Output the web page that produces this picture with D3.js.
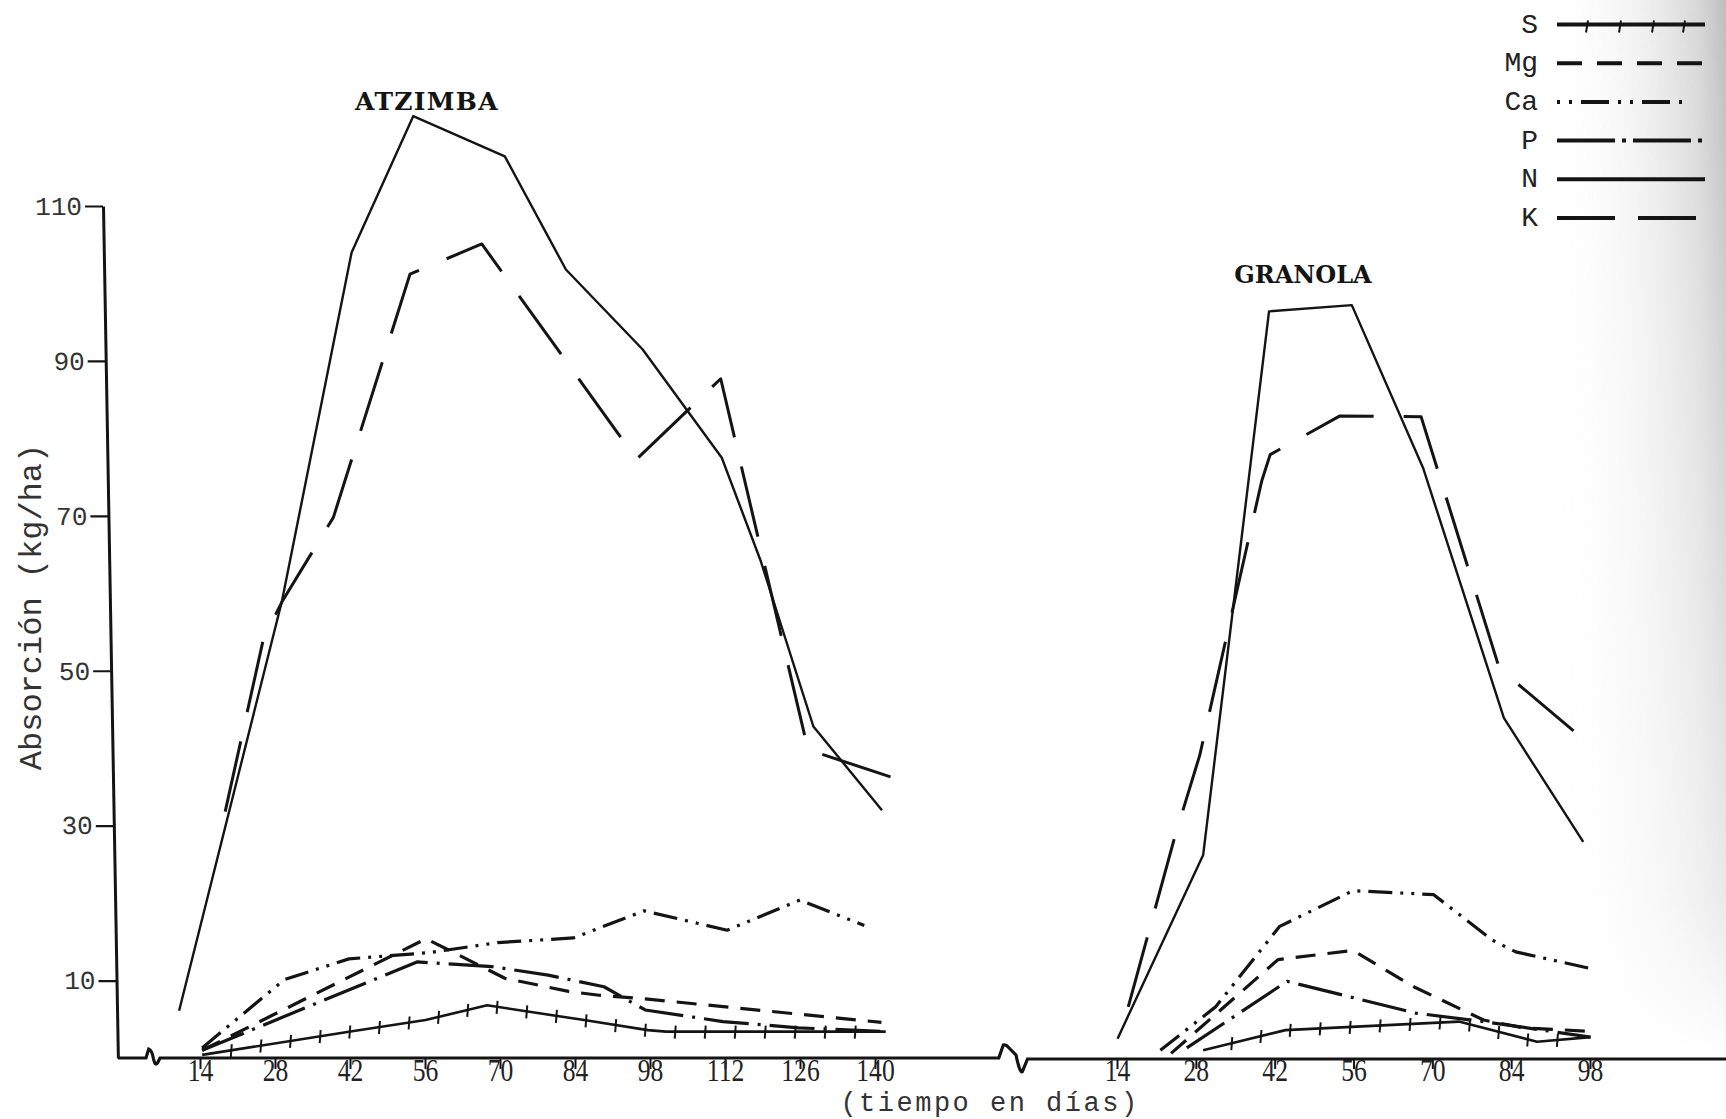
<!DOCTYPE html>
<html>
<head>
<meta charset="utf-8">
<script src="https://cdnjs.cloudflare.com/ajax/libs/d3/7.8.5/d3.min.js"></script>
<style>
  body { margin: 0; background: #fff; }
  svg { display: block; }
</style>
</head>
<body>
<div id="chart"></div>
<script>
/* DATA: [day, kg/ha] */

// Atzimba
const atzS  = [[14.4,0.4],[41.8,3.4],[56.1,4.9],[67.6,6.8],[85.7,4.9],[97.6,3.6],[101,3.4],[142,3.4]];
const atzMg = [[14.4,1.0],[56.2,15.4],[70.9,10.3],[82.8,8.6],[88.5,8.1],[97.6,7.6],[141.2,4.6]];
const atzCa = [[14.4,1.3],[29.7,10.1],[41.8,12.8],[56.7,13.6],[69.6,14.9],[83.7,15.5],[96.9,19.0],[112.4,16.5],[126,20.4],[138,17.1]];
const atzP  = [[14.4,1.0],[54.5,12.4],[68.5,11.8],[79,10.7],[89.4,9.2],[97.1,6.2],[111.6,4.7],[125.7,3.9],[142,3.4]];
const atzN  = [[10.1,6.1],[29.3,59.0],[42.3,104.0],[53.8,121.6],[70.9,116.4],[82.3,101.8],[96.6,91.5],[111.4,77.5],[118.6,64.3],[128.5,42.8],[141.3,32.0]];
const atzK  = [[18.7,31.8],[25.8,54.0],[29.3,58.9],[38.9,69.8],[53.2,101.2],[66.6,105.1],[95.5,77.3],[111.2,87.7],[127.5,39.8],[142.9,36.3]];

// Granola
const graS  = [[29.3,1.0],[43.9,3.6],[74.7,4.7],[88.6,2.1],[98.1,2.7]];
const graMg = [[23.6,0.6],[42.6,12.7],[55.9,13.9],[66.7,9.2],[79.1,4.9],[86.1,3.9],[99.1,3.4]];
const graCa = [[21.7,1.0],[31.5,6.6],[42.9,17.0],[55.9,21.6],[70.2,21.1],[80.7,15.2],[84.8,13.7],[97.8,11.6]];
const graP  = [[26.4,1.3],[44.2,9.9],[67,5.8],[79.1,4.7],[98.1,2.7]];
const graN  = [[14.1,2.5],[29.3,26.2],[41.0,96.4],[55.7,97.2],[68.4,76.1],[82.7,43.9],[96.8,27.9]];
const graK  = [[16.0,6.6],[24.2,28.4],[28.7,39.1],[39.7,74.5],[41.2,77.9],[53.6,82.9],[68.0,82.8],[81.9,50.3],[95.3,42.1]];

const nutrients = ["S", "Mg", "Ca", "P", "N", "K"];
const atzTicks = [14, 28, 42, 56, 70, 84, 98, 112, 126, 140];
const graTicks = [14, 28, 42, 56, 70, 84, 98];
const yTicks = [10, 30, 50, 70, 90, 110];

/* SETUP */
const W = 1726, H = 1119;
const ink = "#141414";
const mono = "'Liberation Mono', 'DejaVu Sans Mono', monospace";

const svg = d3.select("#chart").append("svg")
    .attr("width", W)
    .attr("height", H);

// scanned-page shading on the right edge
const defs = svg.append("defs");
const shade = defs.append("linearGradient").attr("id", "shade");
shade.append("stop").attr("offset", 0).attr("stop-color", "#fff").attr("stop-opacity", 0);
shade.append("stop").attr("offset", 0.5).attr("stop-color", "#e4e4e4").attr("stop-opacity", 0.5);
shade.append("stop").attr("offset", 0.85).attr("stop-color", "#cfcfcf").attr("stop-opacity", 0.85);
shade.append("stop").attr("offset", 1).attr("stop-color", "#bdbdbd").attr("stop-opacity", 1);
const fade = defs.append("linearGradient").attr("id", "fade")
    .attr("x1", 0).attr("x2", 0).attr("y1", 0).attr("y2", 1);
fade.append("stop").attr("offset", 0).attr("stop-color", "#fff");
fade.append("stop").attr("offset", 0.3).attr("stop-color", "#bbb");
fade.append("stop").attr("offset", 0.85).attr("stop-color", "#555");
fade.append("stop").attr("offset", 1).attr("stop-color", "#000");
defs.append("mask").attr("id", "fadeMask")
    .append("rect").attr("x", 1550).attr("y", 0).attr("width", 176).attr("height", 1060)
    .attr("fill", "url(#fade)");
svg.append("rect")
    .attr("x", 1550).attr("y", 0).attr("width", 176).attr("height", 1060)
    .attr("fill", "url(#shade)")
    .attr("mask", "url(#fadeMask)");

// scales
const y  = d3.scaleLinear().domain([0, 110]).range([1058, 206]);
const xA = d3.scaleLinear().domain([14, 140]).range([200, 875]);
const xG = d3.scaleLinear().domain([14, 98]).range([1117, 1590]);

// line styles per nutrient
const styles = {
    S:  { dash: null,                 width: 2.6 },
    Mg: { dash: "20,12",              width: 3.2 },
    Ca: { dash: "24,8,3,8,3,8",       width: 3.2 },
    P:  { dash: "45,9,3,9",           width: 3.2 },
    N:  { dash: null,                 width: 2.4 },
    K:  { dash: "72,30",              width: 3.0 }
};
const legendDash = { S: null, Mg: "25,15", Ca: "3,9,3,9,28,9", P: "58,7,4,7", N: null, K: "58,23" };

/* AXES */

// y axis (the hand-drawn axis leans slightly)
const yAxis = svg.append("g")
    .attr("transform", "translate(99.4,0) skewX(1)")
    .call(d3.axisLeft(y).tickValues(yTicks).tickSize(18).tickPadding(3).tickSizeOuter(0));
yAxis.select(".domain").attr("stroke", ink).attr("stroke-width", 3);
yAxis.selectAll(".tick line").attr("stroke", ink).attr("stroke-width", 2.2);
yAxis.selectAll(".tick text")
    .attr("fill", "#333")
    .style("font-family", mono)
    .style("font-size", "26px");

// x baseline with the two axis breaks
svg.append("path")
    .attr("d", "M118,1058 H146 L148.7,1049 Q152,1050 153.5,1059 Q155,1066 157.5,1063 L160,1058 H998.8 " +
               "L1003.3,1045 Q1006,1044 1008.4,1047.3 L1016,1055 Q1020,1074 1022.4,1071.7 L1027.5,1059 H1726")
    .attr("fill", "none")
    .attr("stroke", ink)
    .attr("stroke-width", 3.2);

function xAxis(scale, ticks) {
    const g = svg.append("g")
        .attr("transform", "translate(0,1058)")
        .call(d3.axisBottom(scale).tickValues(ticks).tickSize(11).tickSizeOuter(0));
    g.select(".domain").remove();
    g.selectAll(".tick line").attr("stroke", ink).attr("stroke-width", 2);
    g.selectAll(".tick text")
        .attr("y", 23)
        .attr("dy", 0)
        .attr("fill", "#222")
        .attr("transform", "scale(0.8,1)")
        .style("font-family", "'Liberation Serif', serif")
        .style("font-size", "32px");
}
xAxis(xA, atzTicks);
xAxis(xG, graTicks);

// axis titles
svg.append("text")
    .attr("transform", "translate(30,607) rotate(-90)")
    .attr("text-anchor", "middle")
    .attr("dy", "0.35em")
    .attr("fill", "#333")
    .style("font-family", mono)
    .style("font-size", "32px")
    .text("Absorción (kg/ha)");

svg.append("text")
    .attr("x", 990)
    .attr("y", 1110.5)
    .attr("text-anchor", "middle")
    .attr("fill", "#333")
    .style("font-family", mono)
    .style("font-size", "27px")
    .style("letter-spacing", "2.5px")
    .text("(tiempo en días)");

// variety titles
svg.append("text")
    .attr("x", 427).attr("y", 110)
    .attr("text-anchor", "middle")
    .attr("fill", ink)
    .style("font-family", "'DejaVu Serif', serif")
    .style("font-weight", "bold")
    .style("font-size", "25px")
    .style("letter-spacing", "1.3px")
    .text("ATZIMBA");

svg.append("text")
    .attr("x", 1303).attr("y", 283)
    .attr("text-anchor", "middle")
    .attr("fill", ink)
    .style("font-family", "'DejaVu Serif', serif")
    .style("font-weight", "bold")
    .style("font-size", "24px")
    .text("GRANOLA");

/* LINES */

// small cross marks along the sulphur line
function addCrossTicks(pathNode, step, up, down) {
    const len = pathNode.getTotalLength();
    for (let l = step; l < len - 4; l += step) {
        const p = pathNode.getPointAtLength(l);
        svg.append("line")
            .attr("x1", p.x).attr("x2", p.x - 1)
            .attr("y1", p.y - up).attr("y2", p.y + down)
            .attr("stroke", ink)
            .attr("stroke-width", 2);
    }
}

function drawSeries(data, x, key) {
    const line = d3.line()
        .x(d => x(d[0]))
        .y(d => y(d[1]));
    const st = styles[key];
    const path = svg.append("path")
        .datum(data)
        .attr("d", line)
        .attr("fill", "none")
        .attr("stroke", ink)
        .attr("stroke-width", st.width)
        .attr("stroke-linejoin", "round")
        .attr("stroke-dasharray", st.dash);
    if (key === "S") addCrossTicks(path.node(), 30, 6, 7);
}

const atzimba = { S: atzS, Mg: atzMg, Ca: atzCa, P: atzP, N: atzN, K: atzK };
const granola = { S: graS, Mg: graMg, Ca: graCa, P: graP, N: graN, K: graK };
nutrients.forEach(k => drawSeries(atzimba[k], xA, k));
nutrients.forEach(k => drawSeries(granola[k], xG, k));

/* LEGEND */
const legend = svg.append("g");
nutrients.forEach((k, i) => {
    const ry = 24.5 + i * 38.7;
    legend.append("text")
        .attr("x", 1538).attr("y", ry + 8)
        .attr("text-anchor", "end")
        .attr("fill", "#222")
        .style("font-family", mono)
        .style("font-size", "28px")
        .text(k);
    const x2 = k === "Ca" ? 1690 : 1705;
    legend.append("line")
        .attr("x1", 1557).attr("x2", x2)
        .attr("y1", ry).attr("y2", ry)
        .attr("stroke", ink)
        .attr("stroke-width", 4)
        .attr("stroke-dasharray", legendDash[k]);
    if (k === "S") {
        [1587, 1620, 1653, 1684].forEach(tx => {
            legend.append("line")
                .attr("x1", tx + 1).attr("x2", tx - 1)
                .attr("y1", ry - 4).attr("y2", ry + 8)
                .attr("stroke", ink).attr("stroke-width", 2);
        });
    }
});
</script>
</body>
</html>
